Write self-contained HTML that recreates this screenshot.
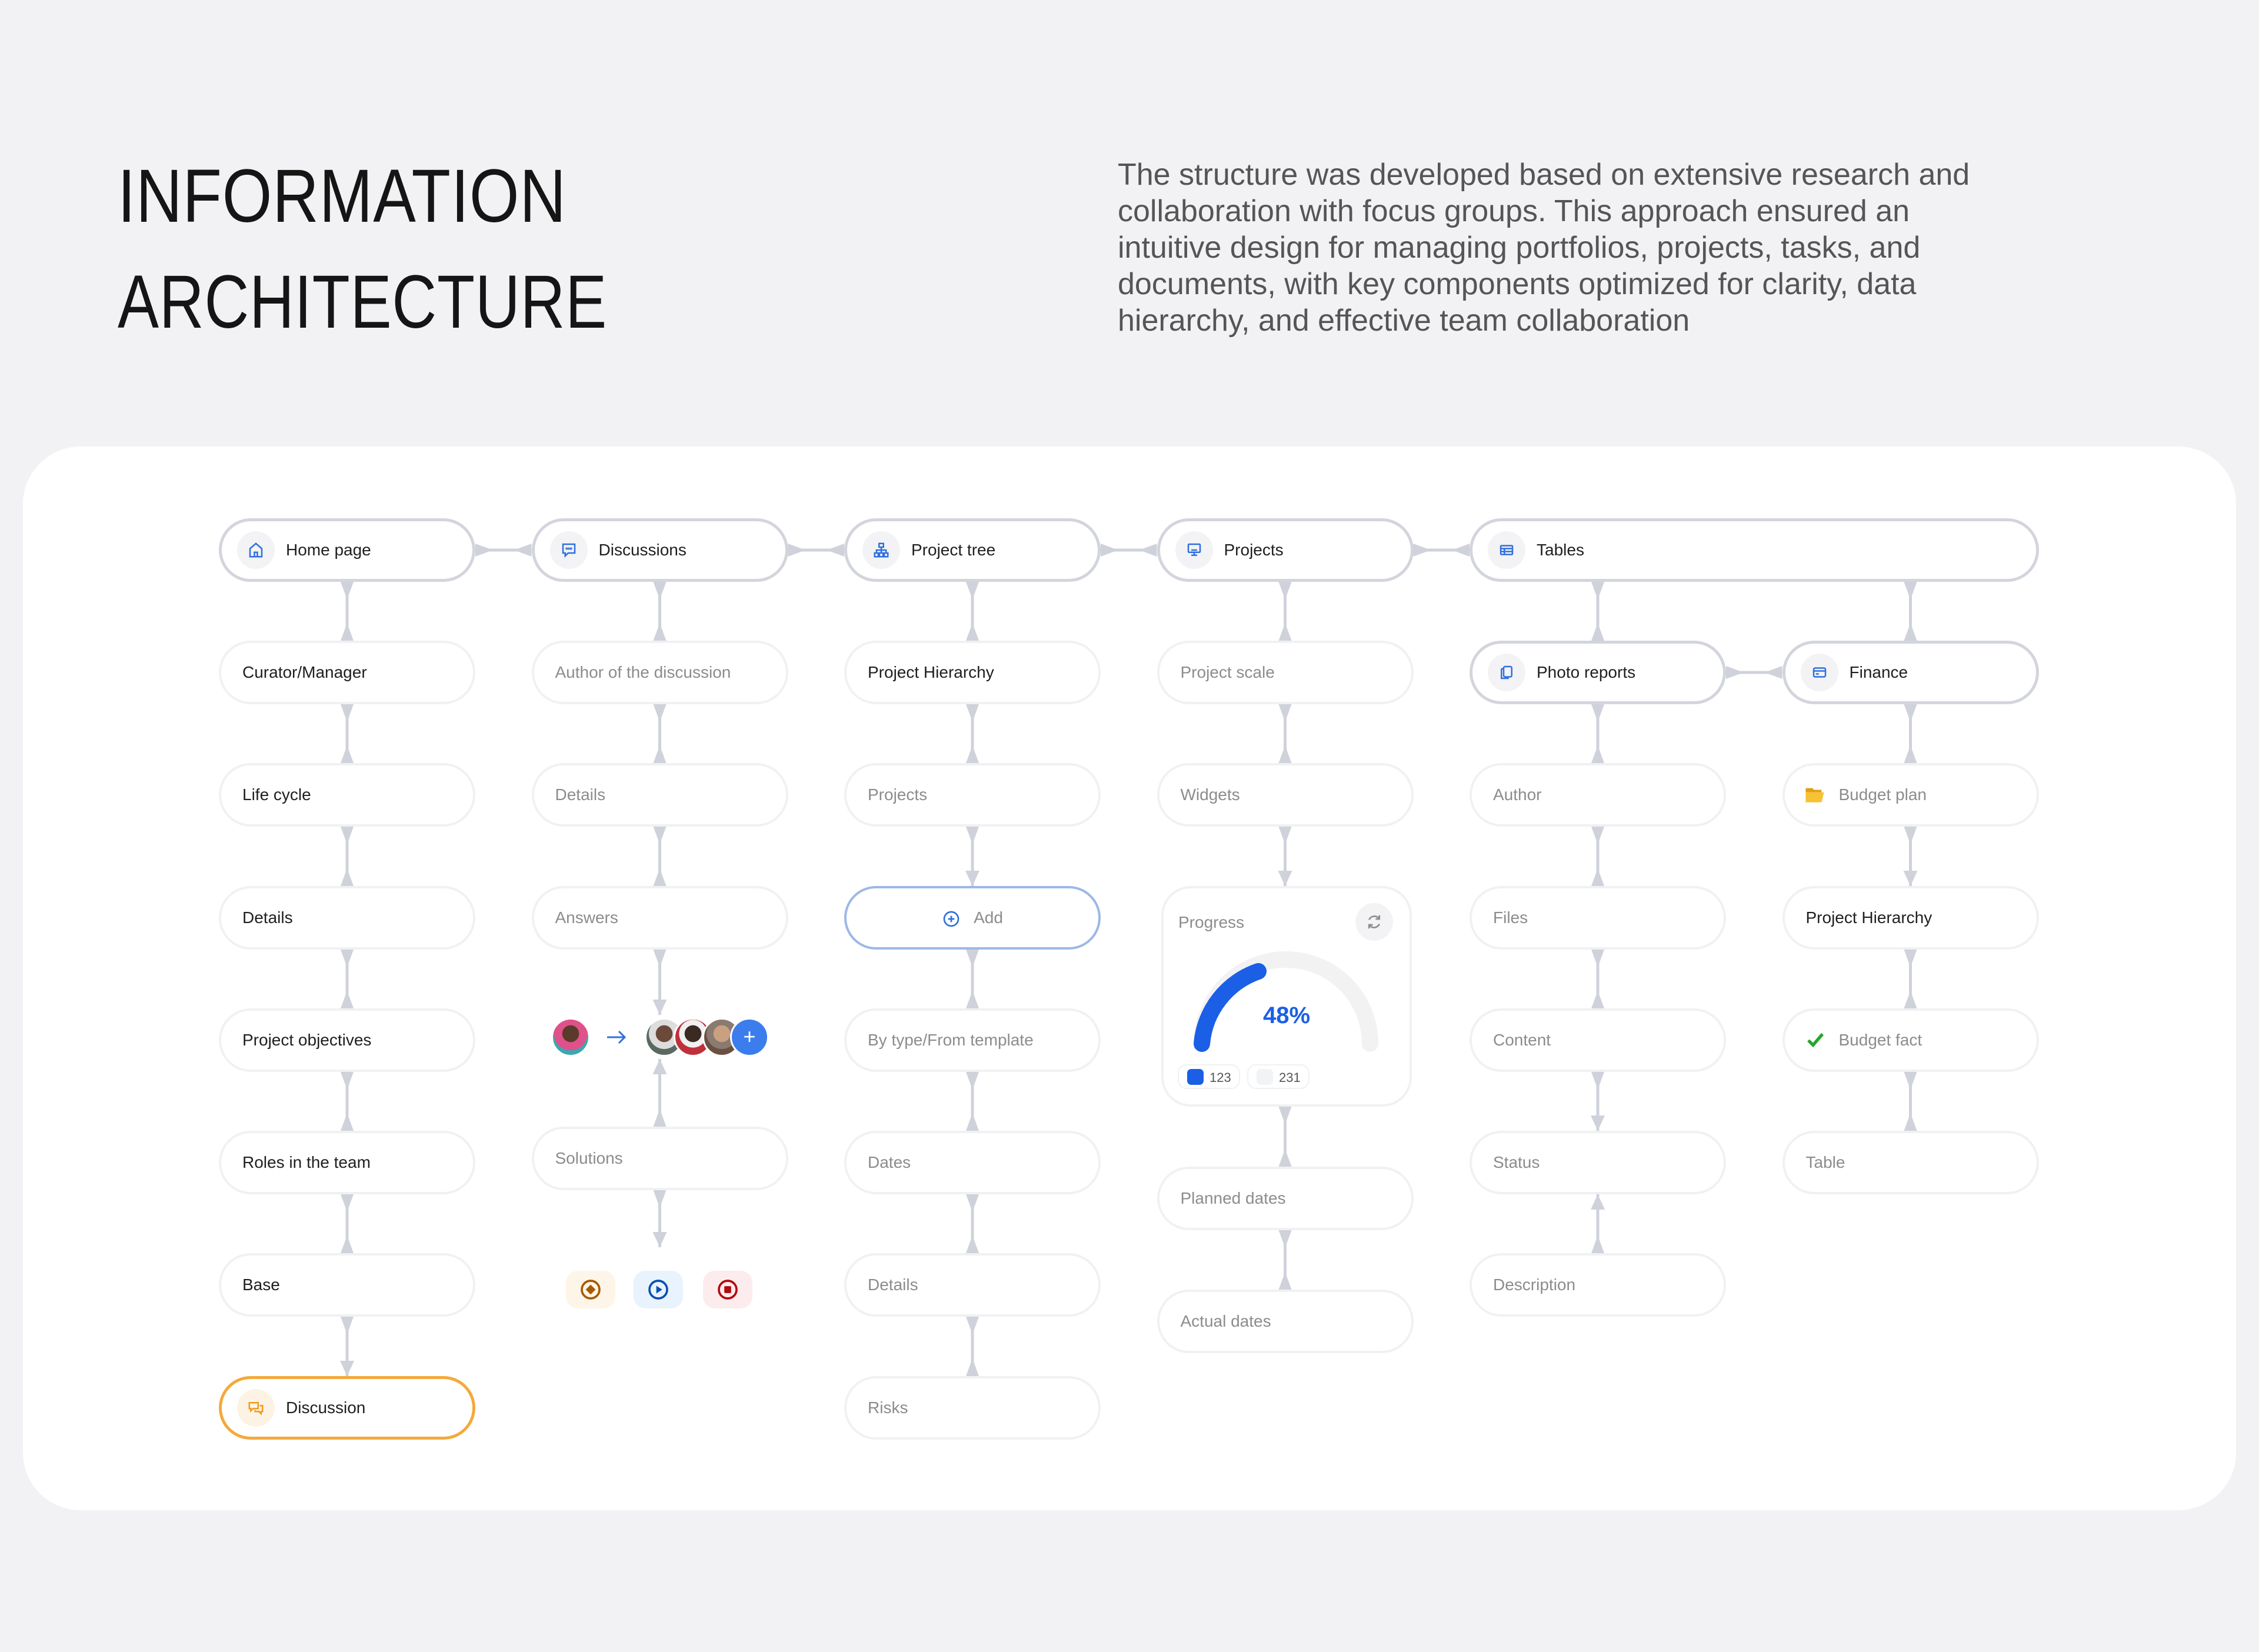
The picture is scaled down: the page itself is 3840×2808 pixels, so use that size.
<!DOCTYPE html>
<html><head><meta charset="utf-8">
<style>
*{margin:0;padding:0;box-sizing:border-box}
body{width:3840px;height:2808px;background:#f2f2f4;position:relative;overflow:hidden;font-family:"Liberation Sans",Arial,sans-serif}
.t{position:absolute;left:200px;font-size:128px;color:#151515;transform:scaleX(.85);transform-origin:left;white-space:nowrap;line-height:1;letter-spacing:1px}
.p{position:absolute;left:1900px;top:266px;font-size:52px;line-height:62px;color:#555;white-space:nowrap}
.card{position:absolute;left:39px;top:759px;width:3762px;height:1808px;background:#fff;border-radius:98px}
.n{position:absolute;width:436px;height:108px;border-radius:54px;border:4px solid #f0f1f3;background:#fff;font-size:28px;color:#8c8c8c;line-height:100px;padding-left:36px;white-space:nowrap}
.d{color:#1f1f1f}
.hd{border:5px solid #d3d5dd;color:#1f1f1f;padding-left:109px;line-height:98px}
.ic{position:absolute;left:26px;top:17px;width:64px;height:64px;border-radius:50%;background:#f3f3f5;display:flex;align-items:center;justify-content:center}
.ii{padding-left:92px}
.sq{position:absolute;width:84px;height:64px;border-radius:20px;display:flex;align-items:center;justify-content:center}
.av{position:absolute;width:66px;height:66px;border-radius:50%;border:3px solid #fff}
</style></head><body>
<div class="t" style="top:270px;">INFORMATION</div>
<div class="t" style="top:450px;transform:scaleX(.82)">ARCHITECTURE</div>
<div class="p">The structure was developed based on extensive research and<br>collaboration with focus groups. This approach ensured an<br>intuitive design for managing portfolios, projects, tasks, and<br>documents, with key components optimized for clarity, data<br>hierarchy, and effective team collaboration</div>
<div class="card"></div>
<svg id="cn" width="3840" height="2808" style="position:absolute;left:0;top:0"></svg>

<!-- Column 1 -->
<div class="n hd" style="left:372px;top:881px"><div class="ic"><svg width="30" height="30" viewBox="0 0 24 24" fill="none" stroke="#2f6fde" stroke-width="2"><path d="M4 10L12 3l8 7v11H4z"/><path d="M10 21v-6h4v6"/></svg></div>Home page</div>
<div class="n d" style="left:372px;top:1089px">Curator/Manager</div>
<div class="n d" style="left:372px;top:1297px">Life cycle</div>
<div class="n d" style="left:372px;top:1506px">Details</div>
<div class="n d" style="left:372px;top:1714px">Project objectives</div>
<div class="n d" style="left:372px;top:1922px">Roles in the team</div>
<div class="n d" style="left:372px;top:2130px">Base</div>
<div class="n hd" style="left:372px;top:2339px;border-color:#f4a93b"><div class="ic" style="background:#fdf3e5"><svg width="30" height="30" viewBox="0 0 24 24" fill="none" stroke="#f29a1f" stroke-width="2"><path d="M3 5h12v8H8l-3 3v-3H3z"/><path d="M17 9h4v8h-2v3l-3-3h-5v-2"/></svg></div>Discussion</div>

<!-- Column 2 -->
<div class="n hd" style="left:903.5px;top:881px"><div class="ic"><svg width="30" height="30" viewBox="0 0 24 24" fill="none" stroke="#2f6fde" stroke-width="2"><path d="M4 4h16v12h-9l-4 4v-4H4z"/><circle cx="9" cy="10" r=".6"/><circle cx="12" cy="10" r=".6"/><circle cx="15" cy="10" r=".6"/></svg></div>Discussions</div>
<div class="n" style="left:903.5px;top:1089px">Author of the discussion</div>
<div class="n" style="left:903.5px;top:1297px">Details</div>
<div class="n" style="left:903.5px;top:1506px">Answers</div>
<div class="n" style="left:903.5px;top:1915px">Solutions</div>
<div class="av" style="left:937px;top:1730px;background:radial-gradient(circle at 50% 40%,#5a3a2a 0 30%,#e0508a 31% 60%,#3aa8b0 61%)"></div>
<svg style="position:absolute;left:1030px;top:1748px" width="36" height="30" viewBox="0 0 36 30"><path d="M2 15h30M22 5l10 10-10 10" stroke="#2f6fde" stroke-width="3" fill="none"/></svg>
<div class="av" style="left:1096px;top:1730px;background:radial-gradient(circle at 50% 40%,#6b4a3a 0 30%,#ddd 31% 55%,#5a6a60 56%)"></div>
<div class="av" style="left:1145px;top:1730px;background:radial-gradient(circle at 50% 40%,#3a2a22 0 30%,#f0f0f0 31% 50%,#c0303a 51%)"></div>
<div class="av" style="left:1194px;top:1730px;background:radial-gradient(circle at 50% 40%,#c9a080 0 30%,#8a7a70 31% 55%,#6a5040 56%)"></div>
<div class="av" style="left:1241px;top:1730px;background:#3b7ded;color:#fff;font-size:36px;line-height:58px;text-align:center">+</div>
<div class="sq" style="left:962px;top:2160px;background:#fdf5e8"><svg width="40" height="40" viewBox="0 0 24 24"><circle cx="12" cy="12" r="9" fill="none" stroke="#a85a00" stroke-width="2.2"/><path d="M12 7l5 5-5 5-5-5z" fill="#a85a00"/></svg></div>
<div class="sq" style="left:1077px;top:2160px;background:#e9f3fd"><svg width="40" height="40" viewBox="0 0 24 24"><circle cx="12" cy="12" r="9" fill="none" stroke="#0a4fb3" stroke-width="2.2"/><path d="M10 8l6 4-6 4z" fill="#0a4fb3"/></svg></div>
<div class="sq" style="left:1195px;top:2160px;background:#fdeced"><svg width="40" height="40" viewBox="0 0 24 24"><circle cx="12" cy="12" r="9" fill="none" stroke="#b30a0a" stroke-width="2.2"/><rect x="8.5" y="8.5" width="7" height="7" rx="1" fill="#b30a0a"/></svg></div>

<!-- Column 3 -->
<div class="n hd" style="left:1435px;top:881px"><div class="ic"><svg width="30" height="30" viewBox="0 0 24 24" fill="none" stroke="#2f6fde" stroke-width="2"><rect x="9" y="3" width="6" height="5"/><rect x="3" y="16" width="5" height="5"/><rect x="9.5" y="16" width="5" height="5"/><rect x="16" y="16" width="5" height="5"/><path d="M12 8v8M5.5 16v-4h13v4"/></svg></div>Project tree</div>
<div class="n d" style="left:1435px;top:1089px">Project Hierarchy</div>
<div class="n" style="left:1435px;top:1297px">Projects</div>
<div class="n" style="left:1435px;top:1506px;border-color:#9db8e6;padding-left:0;text-align:center"><svg style="vertical-align:middle;margin-right:22px" width="32" height="32" viewBox="0 0 24 24" fill="none" stroke="#2f6fde" stroke-width="2"><circle cx="12" cy="12" r="9"/><path d="M12 8v8M8 12h8"/></svg>Add</div>
<div class="n" style="left:1435px;top:1714px">By type/From template</div>
<div class="n" style="left:1435px;top:1922px">Dates</div>
<div class="n" style="left:1435px;top:2130px">Details</div>
<div class="n" style="left:1435px;top:2339px">Risks</div>

<!-- Column 4 -->
<div class="n hd" style="left:1966.5px;top:881px"><div class="ic"><svg width="30" height="30" viewBox="0 0 24 24" fill="none" stroke="#2f6fde" stroke-width="2"><rect x="4" y="4" width="16" height="11" rx="1"/><path d="M8 19h8M12 15v4M8 12h8"/></svg></div>Projects</div>
<div class="n" style="left:1966.5px;top:1089px">Project scale</div>
<div class="n" style="left:1966.5px;top:1297px">Widgets</div>
<div style="position:absolute;left:1974px;top:1506px;width:426px;height:375px;border:4px solid #f0f1f3;border-radius:50px;background:#fff"></div>
<div style="position:absolute;left:2003px;top:1552px;font-size:28px;color:#8c8c8c">Progress</div>
<div style="position:absolute;left:2304px;top:1535px;width:64px;height:64px;border-radius:50%;background:#f3f3f5;display:flex;align-items:center;justify-content:center"><svg width="30" height="30" viewBox="0 0 24 24" fill="none" stroke="#8d8d93" stroke-width="2.2"><path d="M19 8a8 8 0 0 0-14 1M5 16a8 8 0 0 0 14-1"/><path d="M19 3v5h-5M5 21v-5h5"/></svg></div>
<svg style="position:absolute;left:1974px;top:1506px" width="426" height="375">
<path d="M69 268 A143 143 0 0 1 355 268" fill="none" stroke="#f2f2f3" stroke-width="28" stroke-linecap="round"/>
<path d="M69 268 A143 143 0 0 1 165 145" fill="none" stroke="#1a5fe6" stroke-width="28" stroke-linecap="round"/>
<text x="213" y="233" text-anchor="middle" font-family="Liberation Sans,sans-serif" font-weight="bold" font-size="40" fill="#1a5fe6">48%</text>
<rect x="29" y="304" width="104" height="40" rx="14" fill="#fff" stroke="#f0f1f3" stroke-width="2"/>
<rect x="44" y="311" width="28" height="27" rx="7" fill="#1a5fe6"/>
<text x="82" y="333" font-family="Liberation Sans,sans-serif" font-size="22" fill="#555">123</text>
<rect x="147" y="304" width="104" height="40" rx="14" fill="#fff" stroke="#f0f1f3" stroke-width="2"/>
<rect x="162" y="311" width="28" height="27" rx="7" fill="#f2f3f5"/>
<text x="200" y="333" font-family="Liberation Sans,sans-serif" font-size="22" fill="#555">231</text>
</svg>
<div class="n" style="left:1966.5px;top:1983px">Planned dates</div>
<div class="n" style="left:1966.5px;top:2192px">Actual dates</div>

<!-- Column 5/6 -->
<div class="n hd" style="left:2498px;top:881px;width:968px"><div class="ic"><svg width="30" height="30" viewBox="0 0 24 24" fill="none" stroke="#2f6fde" stroke-width="2"><rect x="4" y="6" width="16" height="12" rx="1"/><path d="M4 10h16M4 14h16M9 10v8"/></svg></div>Tables</div>
<div class="n hd" style="left:2498px;top:1089px"><div class="ic"><svg width="30" height="30" viewBox="0 0 24 24" fill="none" stroke="#2f6fde" stroke-width="2"><rect x="8" y="4" width="11" height="14" rx="2"/><path d="M8 7H6a1 1 0 0 0-1 1v12h10"/></svg></div>Photo reports</div>
<div class="n" style="left:2498px;top:1297px">Author</div>
<div class="n" style="left:2498px;top:1506px">Files</div>
<div class="n" style="left:2498px;top:1714px">Content</div>
<div class="n" style="left:2498px;top:1922px">Status</div>
<div class="n" style="left:2498px;top:2130px">Description</div>

<div class="n hd" style="left:3029.5px;top:1089px"><div class="ic"><svg width="30" height="30" viewBox="0 0 24 24" fill="none" stroke="#2f6fde" stroke-width="2"><rect x="4" y="6" width="16" height="12" rx="2"/><path d="M4 10h16M7 14h4"/></svg></div>Finance</div>
<div class="n ii" style="left:3029.5px;top:1297px"><svg style="position:absolute;left:34px;top:34px" width="34" height="32" viewBox="0 0 24 22"><path d="M1 3h8l2 2h9v3H1z" fill="#e0a010"/><path d="M1 8h22l-3 12H1z" fill="#f7c233"/></svg>Budget plan</div>
<div class="n d" style="left:3029.5px;top:1506px">Project Hierarchy</div>
<div class="n ii" style="left:3029.5px;top:1714px"><svg style="position:absolute;left:36px;top:33px" width="32" height="32" viewBox="0 0 24 24"><path d="M3 13l6 6L21 5" fill="none" stroke="#22a82a" stroke-width="4"/></svg>Budget fact</div>
<div class="n" style="left:3029.5px;top:1922px">Table</div>

<script>
var s=document.getElementById('cn'),C='#cfd2da',h='';
function P(p){h+='<polygon points="'+p+'" fill="'+C+'"/>';}
function v(x,y1,y2,t,b){h+='<line x1="'+x+'" y1="'+y1+'" x2="'+x+'" y2="'+y2+'" stroke="'+C+'" stroke-width="5"/>';
if(t=='f')P((x-11)+','+y1+' '+(x+11)+','+y1+' '+x+','+(y1+30));
if(t=='a')P(x+','+y1+' '+(x-12)+','+(y1+26)+' '+(x+12)+','+(y1+26));
if(b=='f')P((x-11)+','+y2+' '+(x+11)+','+y2+' '+x+','+(y2-30));
if(b=='a')P(x+','+y2+' '+(x-12)+','+(y2-26)+' '+(x+12)+','+(y2-26));}
function hz(y,x1,x2){h+='<line x1="'+x1+'" y1="'+y+'" x2="'+x2+'" y2="'+y+'" stroke="'+C+'" stroke-width="5"/>';
P(x1+','+(y-11)+' '+x1+','+(y+11)+' '+(x1+30)+','+y);P(x2+','+(y-11)+' '+x2+','+(y+11)+' '+(x2-30)+','+y);}
var R=[935,1143,1351,1560,1768,1976,2184,2393];
function col(x,a,b,last){for(var j=a;j<b;j++)v(x,R[j]+54,R[j+1]-54,'f',(last&&j==last)?'a':'f');}
col(590,0,7,6);
col(1121.5,0,3);v(1121.5,1614,1725,'f','a');v(1121.5,1800,1915,'a','f');v(1121.5,2023,2120,'f','a');
col(1653,0,7,2);
col(2184.5,0,2);v(2184.5,1405,1506,'f','a');v(2184.5,1881,1983,'f','f');v(2184.5,2091,2192,'f','f');
v(2716,989,1089,'f','f');col(2716,1,4);v(2716,1822,1922,'f','a');v(2716,2030,2130,'a','f');
v(3247.5,989,1089,'f','f');col(3247.5,1,5,2);
for(var i=0;i<4;i++){var x1=372+531.5*i+436;hz(935,x1,x1+95.5);}
hz(1143,2934,3029.5);
s.innerHTML=h;
</script>
</body></html>
